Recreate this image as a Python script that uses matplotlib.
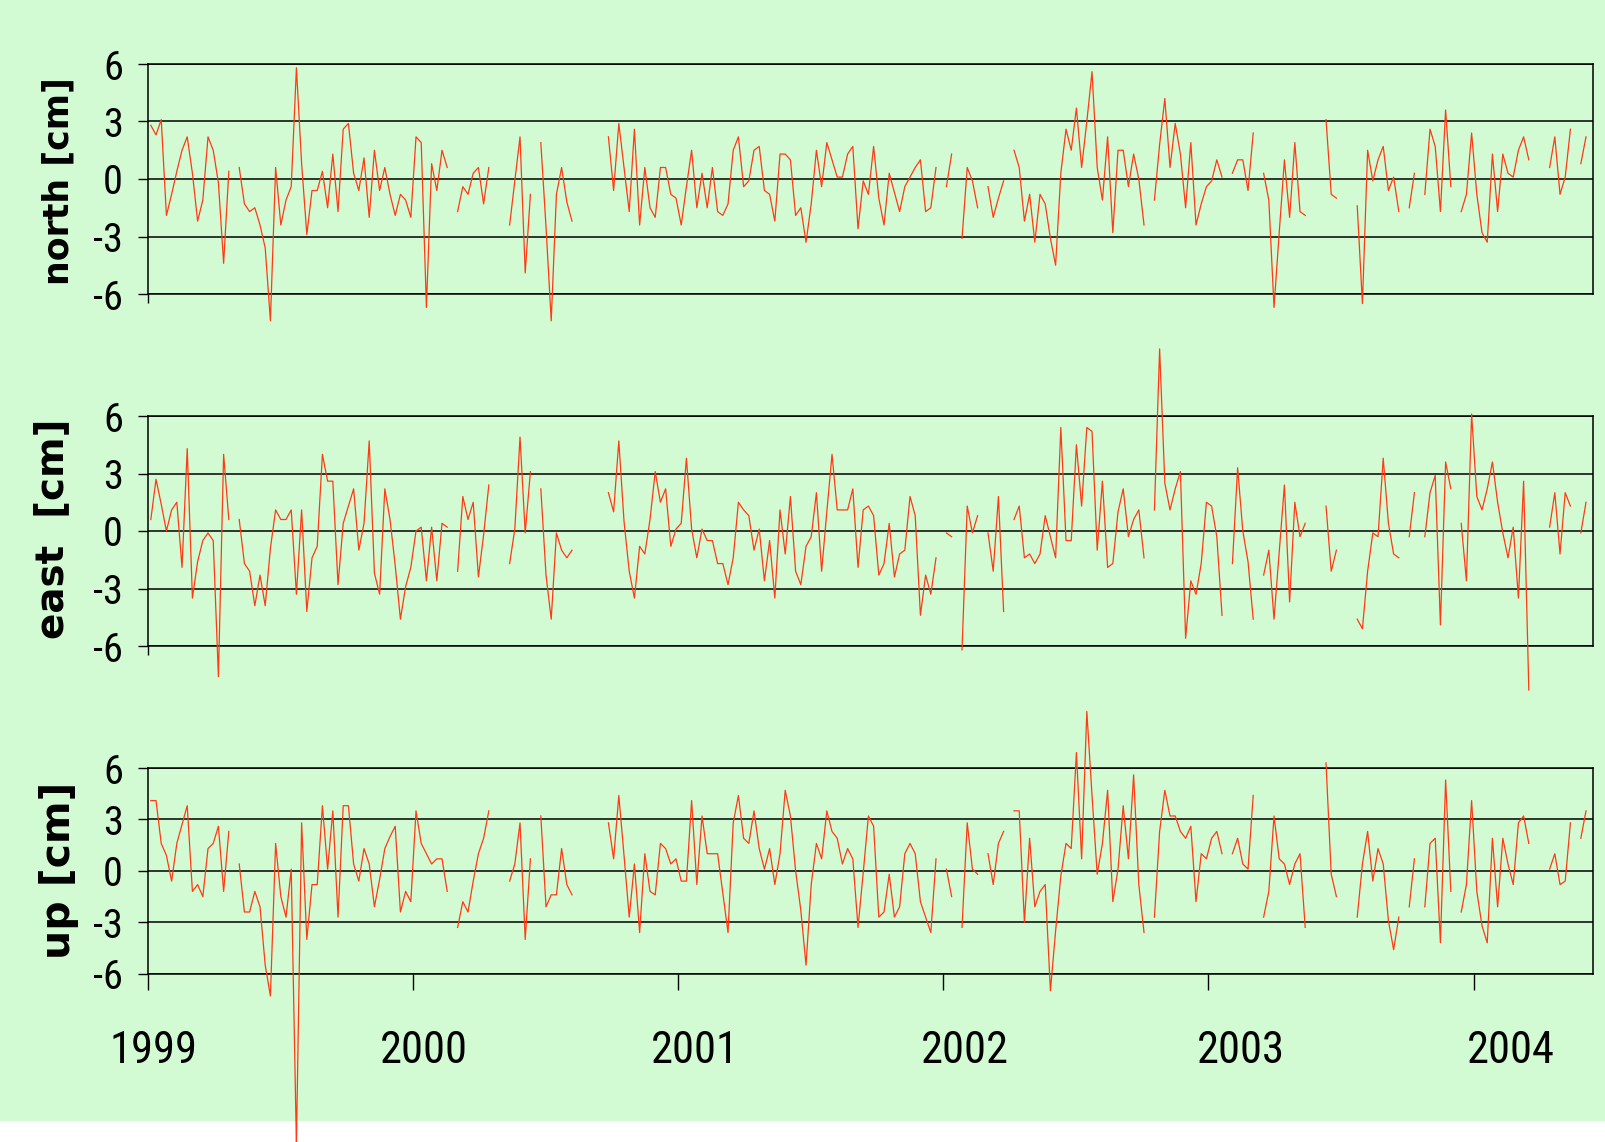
import numpy as np
import pandas as pd
import matplotlib
matplotlib.use("Agg")
import matplotlib.pyplot as plt
from matplotlib.patches import Rectangle
from matplotlib.transforms import blended_transform_factory

# weekly solutions, cm
n_weeks = 277
first_week = "1999-01-05"
missing_weeks = [16, 58, 66, 67, 68, 74, 82, 83, 84, 85, 86, 87, 152, 155, 160, 165,
                 192, 207, 213, 223, 224, 225, 229, 230, 231, 241, 244, 251, 266, 267, 268, 274]

north = [2.8, 2.3, 3.1, -1.9, -0.8, 0.4, 1.5, 2.2, 0.3, -2.2, -1.1, 2.2, 1.5, -0.2, -4.4, 0.4,
         0.6, -1.3, -1.7, -1.5, -2.4, -3.6, -7.4, 0.6, -2.4, -1.1, -0.4, 5.8, 0.8, -2.9, -0.6, -0.6,
         0.4, -1.5, 1.3, -1.7, 2.6, 2.9, 0.3, -0.6, 1.1, -2.0, 1.5, -0.6, 0.6, -0.8, -1.9, -0.8,
         -1.1, -2.0, 2.2, 1.9, -6.7, 0.8, -0.6, 1.5, 0.6,
         -1.7, -0.4, -0.8, 0.3, 0.6, -1.3, 0.6,
         -2.4, -0.1, 2.2, -4.9, -0.8,
         1.9, -2.5, -7.4, -0.8, 0.6, -1.2, -2.2,
         2.2, -0.6, 2.9, 0.6, -1.7, 2.6, -2.4, 0.6, -1.5, -2.0, 0.6, 0.6, -0.8, -1.0, -2.4, -0.4,
         1.5, -1.5, 0.3, -1.5, 0.6, -1.7, -1.9, -1.3, 1.5, 2.2, -0.4, -0.1, 1.5, 1.7, -0.6, -0.8,
         -2.2, 1.3, 1.3, 1.0, -1.9, -1.5, -3.3, -1.3, 1.5, -0.4, 1.9, 1.0, 0.1, 0.1, 1.3, 1.7,
         -2.6, -0.1, -0.8, 1.7, -1.0, -2.4, 0.3, -0.7, -1.7, -0.4, 0.1, 0.6, 1.0, -1.7, -1.5, 0.6,
         -0.4, 1.3,
         -3.1, 0.6, -0.1, -1.5,
         -0.4, -2.0, -1.0, -0.1,
         1.5, 0.6, -2.2, -0.8, -3.3, -0.8, -1.3, -3.1, -4.5, 0.3, 2.6, 1.5, 3.7, 0.6, 3.0, 5.6,
         0.6, -1.1, 2.2, -2.8, 1.5, 1.5, -0.4, 1.3, 0.0, -2.4,
         -1.1, 1.8, 4.2, 0.6, 2.9, 1.3, -1.5, 1.9, -2.4, -1.3, -0.4, -0.1, 1.0, 0.1,
         0.3, 1.0, 1.0, -0.6, 2.4,
         0.3, -1.1, -6.7, -2.8, 1.0, -2.0, 1.9, -1.7, -1.9,
         3.1, -0.8, -1.0,
         -1.4, -6.5, 1.5, -0.1, 1.0, 1.7, -0.6, 0.1, -1.7,
         -1.5, 0.3,
         -0.8, 2.6, 1.7, -1.7, 3.6, -0.4,
         -1.7, -0.8, 2.4, -0.8, -2.8, -3.3, 1.3, -1.7, 1.3, 0.3, 0.1, 1.5, 2.2, 1.0,
         0.6, 2.2, -0.8, 0.1, 2.6,
         0.8, 2.2]

east = [0.6, 2.7, 1.4, 0.0, 1.1, 1.5, -1.9, 4.3, -3.5, -1.6, -0.5, -0.1, -0.5, -7.6, 4.0, 0.6,
        0.6, -1.7, -2.1, -3.9, -2.3, -3.9, -0.9, 1.1, 0.6, 0.6, 1.1, -3.3, 1.1, -4.2, -1.4, -0.8,
        4.0, 2.6, 2.6, -2.8, 0.4, 1.3, 2.2, -1.0, 0.4, 4.7, -2.2, -3.3, 2.2, 0.6, -1.8, -4.6,
        -2.9, -1.9, 0.0, 0.2, -2.6, 0.2, -2.6, 0.4, 0.2,
        -2.1, 1.8, 0.6, 1.5, -2.4, -0.2, 2.4,
        -1.7, 0.1, 4.9, -0.1, 3.1,
        2.2, -2.3, -4.6, -0.1, -1.0, -1.4, -1.0,
        2.0, 1.0, 4.7, 0.5, -2.1, -3.5, -0.8, -1.2, 0.6, 3.1, 1.5, 2.2, -0.8, 0.1, 0.4, 3.8,
        0.1, -1.4, 0.1, -0.5, -0.5, -1.7, -1.7, -2.8, -1.4, 1.5, 1.1, 0.8, -1.0, 0.1, -2.6, -0.5,
        -3.5, 1.1, -1.2, 1.8, -2.1, -2.8, -0.8, -0.3, 2.0, -2.1, 1.0, 4.0, 1.1, 1.1, 1.1, 2.2,
        -1.9, 1.1, 1.3, 0.8, -2.3, -1.7, 0.4, -2.4, -1.2, -1.0, 1.8, 0.8, -4.4, -2.3, -3.3, -1.4,
        -0.1, -0.3,
        -6.2, 1.3, -0.1, 0.8,
        -0.1, -2.1, 1.8, -4.2,
        0.6, 1.3, -1.4, -1.2, -1.7, -1.2, 0.8, -0.3, -1.4, 5.4, -0.5, -0.5, 4.5, 1.3, 5.4, 5.2,
        -1.0, 2.6, -1.9, -1.7, 1.0, 2.2, -0.3, 0.6, 1.1, -1.4,
        1.1, 9.5, 2.5, 1.1, 2.2, 3.1, -5.6, -2.6, -3.3, -1.7, 1.5, 1.3, -0.3, -4.4,
        -1.7, 3.3, 0.0, -1.6, -4.6,
        -2.3, -1.0, -4.6, -1.1, 2.4, -3.7, 1.5, -0.3, 0.4,
        1.3, -2.1, -1.0,
        -4.6, -5.1, -2.1, -0.1, -0.3, 3.8, 0.4, -1.2, -1.4,
        -0.3, 2.0,
        -0.3, 2.0, 2.9, -4.9, 3.6, 2.2,
        0.4, -2.6, 6.1, 1.8, 1.1, 2.2, 3.6, 1.5, -0.1, -1.4, 0.2, -3.5, 2.6, -8.3,
        0.2, 2.0, -1.2, 2.0, 1.3,
        -0.1, 1.5]

up = [4.1, 4.1, 1.6, 0.9, -0.6, 1.6, 2.7, 3.8, -1.2, -0.8, -1.5, 1.3, 1.6, 2.6, -1.2, 2.3,
      0.4, -2.4, -2.4, -1.2, -2.1, -5.5, -7.3, 1.6, -1.5, -2.7, 0.1, -16.0, 2.8, -4.0, -0.8, -0.8,
      3.8, 0.1, 3.5, -2.7, 3.8, 3.8, 0.4, -0.6, 1.3, 0.4, -2.1, -0.5, 1.3, 2.0, 2.6, -2.4,
      -1.2, -1.8, 3.5, 1.6, 1.0, 0.4, 0.7, 0.7, -1.2,
      -3.3, -1.8, -2.4, -0.6, 1.0, 1.9, 3.5,
      -0.6, 0.4, 2.8, -4.0, 0.7,
      3.2, -2.1, -1.4, -1.4, 1.3, -0.8, -1.4,
      2.8, 0.7, 4.4, 0.9, -2.7, 0.4, -3.6, 1.0, -1.2, -1.4, 1.6, 1.3, 0.4, 0.7, -0.6, -0.6,
      4.1, -0.8, 3.2, 1.0, 1.0, 1.0, -1.3, -3.6, 2.8, 4.4, 1.9, 1.6, 3.5, 1.3, 0.1, 1.3,
      -0.8, 1.0, 4.7, 3.2, 0.0, -2.3, -5.5, -0.8, 1.6, 0.7, 3.5, 2.3, 1.9, 0.4, 1.3, 0.7,
      -3.3, -0.1, 3.2, 2.6, -2.7, -2.4, -0.2, -2.7, -2.1, 1.0, 1.6, 1.0, -1.8, -2.7, -3.6, 0.7,
      0.1, -1.5,
      -3.3, 2.8, 0.1, -0.2,
      1.0, -0.8, 1.6, 2.3,
      3.5, 3.5, -3.0, 1.9, -2.1, -1.2, -0.8, -7.0, -3.5, -0.3, 1.6, 1.3, 6.9, 0.7, 9.3, 4.4,
      -0.2, 1.6, 4.7, -1.8, 0.1, 3.8, 0.7, 5.6, -0.8, -3.6,
      -2.7, 2.3, 4.7, 3.2, 3.2, 2.3, 1.9, 2.6, -1.8, 1.0, 0.7, 1.9, 2.3, 1.0,
      1.0, 1.9, 0.4, 0.1, 4.4,
      -2.7, -1.2, 3.2, 0.7, 0.4, -0.8, 0.4, 1.0, -3.3,
      6.3, -0.2, -1.5,
      -2.7, 0.4, 2.3, -0.6, 1.3, 0.4, -2.9, -4.6, -2.7,
      -2.1, 0.7,
      -2.1, 1.6, 1.9, -4.2, 5.3, -1.2,
      -2.4, -0.8, 4.1, -1.2, -3.2, -4.2, 1.9, -2.1, 1.9, 0.4, -0.8, 2.8, 3.2, 1.6,
      0.1, 1.0, -0.8, -0.6, 2.8,
      1.9, 3.5]

components = ["north [cm]", "east  [cm]", "up [cm]"]
y_ticks = [-6, -3, 0, 3, 6]
y_tick_labels = ["-6", "-3", "0", "3", "6"]
years = [1999, 2000, 2001, 2002, 2003, 2004]

dates = pd.date_range(first_week, periods=n_weeks, freq="7D")
observed = np.setdiff1d(np.arange(n_weeks), missing_weeks)
assert len(observed) == len(north) == len(east) == len(up), (len(observed), len(north), len(east), len(up))


def full_series(vals):
    return pd.Series(vals, index=observed).reindex(np.arange(n_weeks)).values


series = [full_series(north), full_series(east), full_series(up)]
weeks = np.arange(n_weeks)
year_label_pos = [np.argmax(dates.year >= y) for y in years]

W, H = 1606, 1142
bg = "#D3FBD3"
red = "#FF3A14"
narrow = ["Liberation Sans Narrow", "Arial Narrow", "Roboto Condensed",
          "Open Sans Condensed", "Liberation Sans"]

fig = plt.figure(figsize=(W / 100, H / 100), dpi=100)
fig.patch.set_facecolor("white")
fig.add_artist(Rectangle((0, 21 / H), 1, 1 - 21 / H, transform=fig.transFigure,
                         facecolor=bg, edgecolor="none", zorder=-10))

x_min, x_max = -0.6, n_weeks + 0.4
tick_every = 51
left, width = 147.7 / W, (1593.3 - 147.7) / W
# (top, bottom) of each panel in pixels from the top of the picture
panels = [(64, 294), (416, 646), (768, 973.7)]
# y-label centre (x, y) in pixels and size
label_xy = [(59, 181), (52, 529), (59, 870)]
label_size = [25, 28, 29.5]

axes = []
for k, (top, bot) in enumerate(panels):
    ax = fig.add_axes([left, (H - bot) / H, width, (bot - top) / H])
    ax.set_facecolor("none")
    ax.plot(weeks, series[k], color=red, lw=0.9, clip_on=False, zorder=3)
    ax.set_xlim(x_min, x_max)
    ax.set_ylim(-6, 6)
    ax.set_yticks(y_ticks, y_tick_labels)
    for v in y_ticks:
        ax.axhline(v, color="black", lw=1.1, zorder=1)
    for s in ax.spines.values():
        s.set_linewidth(1.1)
        s.set_color("black")
    ax.tick_params(axis="y", direction="out", length=7.2, width=1.0, pad=10.5,
                   labelsize=29, labelfontfamily=narrow)
    if k < 2:
        ax.set_xticks([x_min], [""])
        ax.tick_params(axis="x", direction="out", length=6.5, width=1.0)
    else:
        ax.set_xticks(x_min + tick_every * np.arange(len(years)), [""] * len(years))
        ax.tick_params(axis="x", direction="out", length=11.5, width=1.0)
    lx, ly = label_xy[k]
    fig.text(lx / W, (H - ly) / H, components[k], rotation=90, ha="center",
             va="center", fontsize=label_size[k], fontweight="bold", family="DejaVu Sans")
    axes.append(ax)

trans = blended_transform_factory(axes[2].transData, fig.transFigure)
for pos, y in zip(year_label_pos, years):
    axes[2].text(pos + 0.6, (H - 1063) / H, str(y), transform=trans, ha="center",
                 va="baseline", fontsize=32, family=narrow)

fig.savefig("out.png", dpi=100, facecolor=fig.get_facecolor())
